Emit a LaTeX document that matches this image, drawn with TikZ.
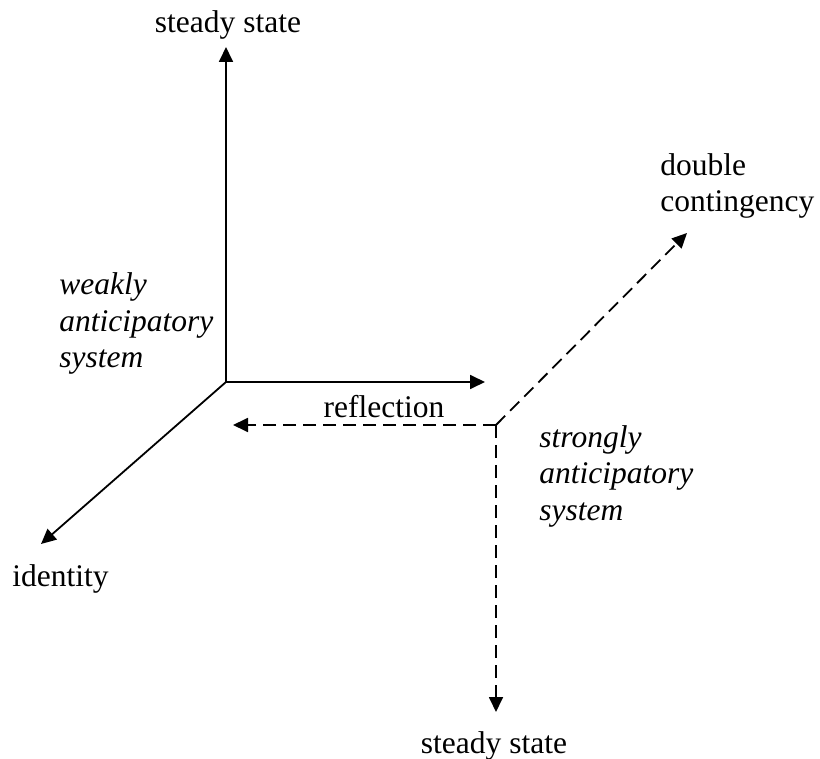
\documentclass[tikz,border=0pt]{standalone}
\usepackage{fontspec}
\setmainfont{Liberation Serif}
\usetikzlibrary{arrows.meta}
\begin{document}
\begin{tikzpicture}[x=0.5pt,y=-0.5pt,
  ax/.style={line width=0.9pt,-{Triangle[length=7.5pt,width=7pt]}},
  dax/.style={ax,dash pattern=on 6.5pt off 3.5pt},
  lbl/.style={inner sep=0pt,font=\fontsize{15.75pt}{18.25pt}\selectfont},
  ilbl/.style={inner sep=0pt,font=\fontsize{15.75pt}{18.25pt}\selectfont\itshape,align=left}]
\useasboundingbox (0,0) rectangle (820,759);
% solid axes
\coordinate (O) at (226,382);
\coordinate (up) at (226,47);
\coordinate (right) at (485,382);
\coordinate (diag) at (41,544);
% dashed axes
\coordinate (P) at (496,425);
\coordinate (left) at (233,425);
\coordinate (down) at (496,712);
\coordinate (ne) at (687,233);
\draw[ax] (O) -- (up);
\draw[ax] (O) -- (right);
\draw[ax] (O) -- (diag);
\draw[dax] (P) -- (left);
\draw[dax] (P) -- (down);
\draw[dax] (P) -- (ne);
% labels (base anchor of a multi-line node = baseline of its last line)
\node[lbl,anchor=base] (ss1) at (228,33) {steady state};
\node[lbl,anchor=base] (ss2) at (494,753) {steady state};
\node[lbl,anchor=base west] (id) at (12,586) {identity};
\node[lbl,anchor=base] (refl) at (384,417) {reflection};
\node[lbl,anchor=base west,align=left] (dc) at (660,212) {double\\contingency};
\node[ilbl,anchor=base west] (weak) at (59,368) {weakly\\anticipatory\\system};
\node[ilbl,anchor=base west] (strong) at (539,520) {strongly\\anticipatory\\system};
\end{tikzpicture}
\end{document}
